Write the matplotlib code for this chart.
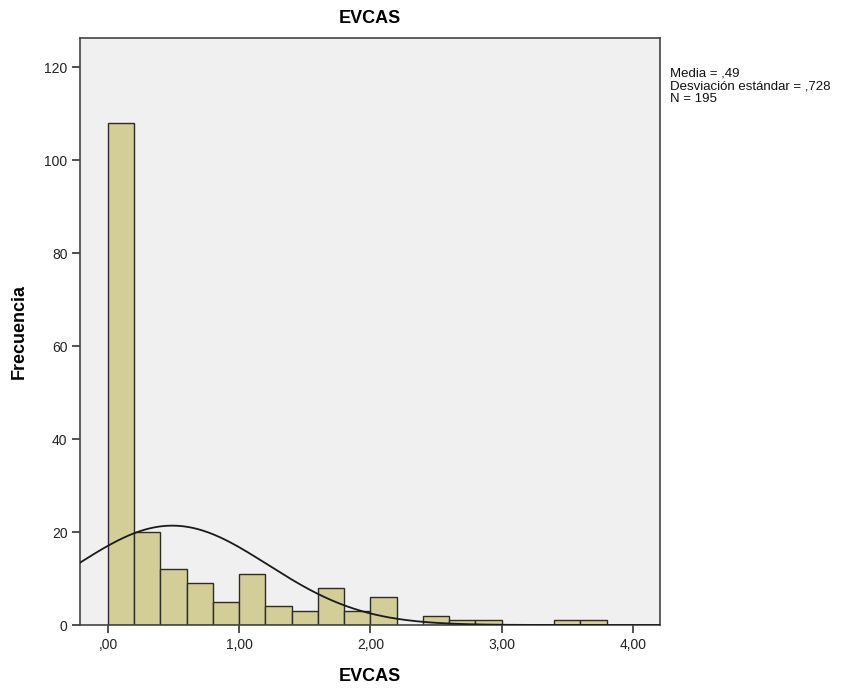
import numpy as np
import matplotlib.pyplot as plt

plt.rcParams['font.family'] = ['Liberation Sans', 'DejaVu Sans']

# histograma de EVCAS (ancho de clase 0,2)
bin_edges = [0.0, 0.2, 0.4, 0.6, 0.8, 1.0, 1.2, 1.4, 1.6, 1.8, 2.0, 2.2,
             2.4, 2.6, 2.8, 3.0, 3.2, 3.4, 3.6, 3.8]
counts = [108, 20, 12, 9, 5, 11, 4, 3, 8, 3, 6, 0, 2, 1, 1, 0, 0, 1, 1]
media = 0.49
desv = 0.728
n = 195

xticks = [0, 1, 2, 3, 4]
xticklabels = [',00', '1,00', '2,00', '3,00', '4,00']
yticks = [0, 20, 40, 60, 80, 100, 120]

fig = plt.figure(figsize=(8.65, 6.94), dpi=100)
ax = fig.add_axes([0.0925, 0.0994, 0.6705, 0.8456])
ax.set_facecolor('#F0F0F0')

ancho = np.diff(bin_edges)
for x0, w, c in zip(bin_edges[:-1], ancho, counts):
    if c > 0:
        ax.bar(x0, c, width=w, align='edge', color='#D3CE98',
               edgecolor='#2b2b2b', linewidth=1.0, zorder=2)

# curva normal escalada a frecuencias
xs = np.linspace(-0.213, 4.206, 400)
ys = n * 0.2 * np.exp(-0.5 * ((xs - media) / desv) ** 2) / (desv * np.sqrt(2 * np.pi))
ax.plot(xs, ys, color='#1a1a1a', linewidth=1.3, zorder=3)

ax.set_xlim(-0.213, 4.206)
ax.set_ylim(0, 126.2)
ax.set_xticks(xticks)
ax.set_xticklabels(xticklabels)
ax.set_yticks(yticks)
ax.tick_params(direction='out', length=6, width=1.2, color='#333333',
               labelsize=10, labelcolor='#222222', pad=3)
for s in ax.spines.values():
    s.set_color('#444444')
    s.set_linewidth(1.2)

ax.set_title('EVCAS', fontsize=13, fontweight='bold', pad=11)
ax.set_xlabel('EVCAS', fontsize=13, fontweight='bold', labelpad=12)
ax.set_ylabel('Frecuencia', fontsize=13, fontweight='bold', labelpad=12)

fig.text(670 / 865, 1 - 68 / 694,
         'Media = ,49\nDesviación estándar = ,728\nN = 195',
         fontsize=9.5, va='top', ha='left', linespacing=1.05, color='#111111')

plt.savefig('out.png', dpi=100)
